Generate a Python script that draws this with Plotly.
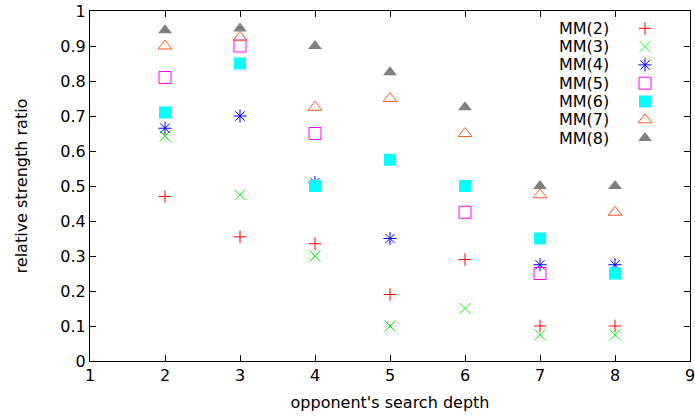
import plotly.graph_objects as go

depths = [2, 3, 4, 5, 6, 7, 8]
series_names = ["MM(2)", "MM(3)", "MM(4)", "MM(5)", "MM(6)", "MM(7)", "MM(8)"]

mm2 = [0.47, 0.355, 0.335, 0.19, 0.29, 0.10, 0.10]
mm3 = [0.643, 0.475, 0.30, 0.10, 0.15, 0.075, 0.075]
mm4 = [0.665, 0.70, 0.51, 0.35, None, 0.275, 0.275]
mm5 = [0.81, 0.90, 0.65, None, 0.425, 0.25, None]
mm6 = [0.71, 0.85, 0.50, 0.575, 0.50, 0.35, 0.25]
mm7 = [0.90, 0.925, 0.725, 0.75, 0.65, 0.475, 0.425]
mm8 = [0.945, 0.95, 0.90, 0.825, 0.725, 0.50, 0.50]

x_ticks = [1, 2, 3, 4, 5, 6, 7, 8, 9]
y_ticks = [0, 0.1, 0.2, 0.3, 0.4, 0.5, 0.6, 0.7, 0.8, 0.9, 1]

values = [mm2, mm3, mm4, mm5, mm6, mm7, mm8]
colors = ["#ff0000", "#00ff00", "#0000ff", "#ff00ff", "#00ffff", "#ff5a1f", "#808080"]
symbols = ["cross-thin-open", "x-thin-open", "asterisk-open", "square-open",
           "square", "triangle-up-open", "triangle-up"]
sizes = [9, 11, 11, 12, 12, 12, 12]

FONT = "DejaVu Sans"
FS = 16
W, H = 695, 419
ML, MR, MT, MB = 90, 5, 11, 58

fig = go.Figure()

def marker(i):
    filled = symbols[i] in ("square", "triangle-up")
    return dict(symbol=symbols[i], size=sizes[i], color=colors[i],
                line=dict(color=colors[i], width=0 if filled else 1))

for i, name in enumerate(series_names):
    fig.add_trace(go.Scatter(x=depths, y=values[i], mode="markers", name=name,
                             marker=marker(i), showlegend=False, cliponaxis=False))

# custom gnuplot-style key (text right-aligned, symbol to the right)
plot_w = W - ML - MR
plot_h = H - MT - MB
key_sym_px = 645
key_text_px = 611
key_row0_px = 28.3
key_row_step = 18.3
for i, name in enumerate(series_names):
    ky = 1 - (key_row0_px + i * key_row_step - MT) / plot_h
    kx = (key_sym_px - ML) / plot_w
    fig.add_trace(go.Scatter(x=[kx], y=[ky], mode="markers", marker=marker(i),
                             xaxis="x2", yaxis="y2", showlegend=False, hoverinfo="skip"))
    fig.add_annotation(x=(key_text_px - ML) / plot_w, y=ky, xref="paper", yref="paper",
                       text=name, showarrow=False, xanchor="right", yanchor="middle",
                       font=dict(family=FONT, size=FS, color="black"))

axis_common = dict(showgrid=False, zeroline=False, showline=True, linecolor="black",
                   linewidth=1, mirror="ticks", ticks="inside", ticklen=6,
                   tickcolor="black", tickwidth=1, automargin=False,
                   ticklabeloverflow="allow",
                   tickfont=dict(family=FONT, size=FS, color="black"))

fig.update_layout(
    width=W, height=H,
    margin=dict(l=ML, r=MR, t=MT, b=MB),
    paper_bgcolor="white", plot_bgcolor="white",
    showlegend=False,
    font=dict(family=FONT, size=FS, color="black"),
    xaxis=dict(range=[1, 9], tickvals=x_ticks, ticktext=[str(v) for v in x_ticks],
               title=dict(text="opponent's search depth", standoff=12,
                          font=dict(family=FONT, size=FS)), **axis_common),
    yaxis=dict(range=[0, 1], tickvals=y_ticks, ticktext=[("%g" % v) for v in y_ticks],
               title=dict(text="relative strength ratio", standoff=28,
                          font=dict(family=FONT, size=FS)), **axis_common),
    xaxis2=dict(overlaying="x", range=[0, 1], visible=False),
    yaxis2=dict(overlaying="y", range=[0, 1], visible=False),
)

fig.write_html("out.html")
